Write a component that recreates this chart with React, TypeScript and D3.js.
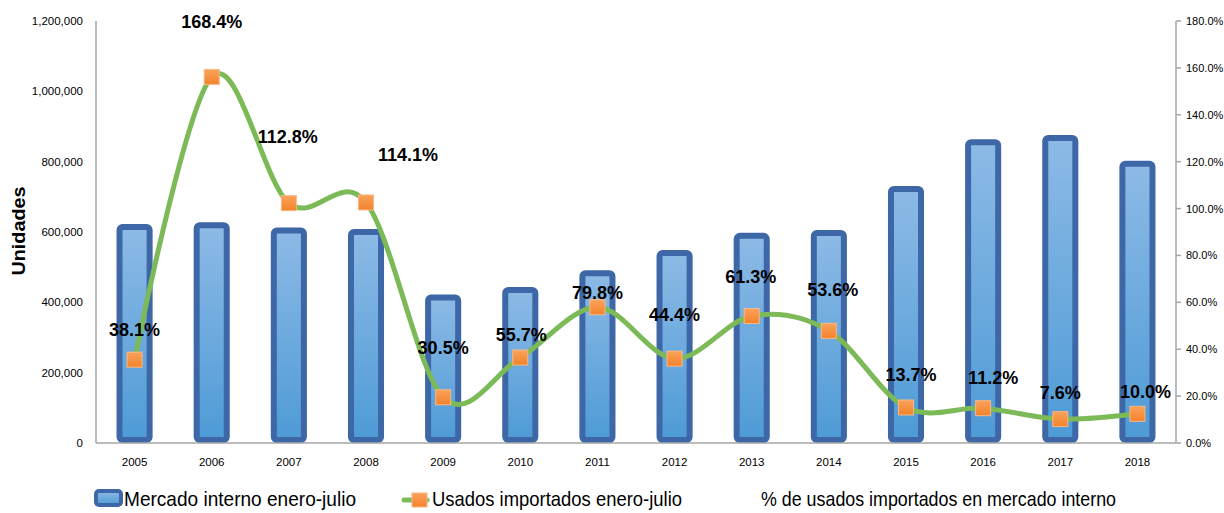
import React from 'react';
import * as d3 from 'd3';

const years = ['2005', '2006', '2007', '2008', '2009', '2010', '2011', '2012', '2013', '2014', '2015', '2016', '2017', '2018'];
const mercadoInterno = [614000, 619000, 604000, 600000, 414000, 435000, 483000, 540000, 589000, 597000, 722000, 855000, 867000, 794000];
const usadosImportados = [237000, 1041000, 682000, 684000, 130000, 243000, 386000, 240000, 361000, 319000, 101000, 99000, 68000, 83000];
const pctUsados = [38.1, 168.4, 112.8, 114.1, 30.5, 55.7, 79.8, 44.4, 61.3, 53.6, 13.7, 11.2, 7.6, 10.0];
const leftTicks = [0, 200000, 400000, 600000, 800000, 1000000, 1200000];
const rightTicks = [0, 20, 40, 60, 80, 100, 120, 140, 160, 180];
const seriesNames = ['Mercado interno enero-julio', 'Usados importados enero-julio', '% de usados importados en mercado interno'];

// layout nudges for the data labels (dx, dy in px from the % point)
const labelNudge: [number, number][] = [
  [0, -24], [0, -26], [-1, -42], [42, -20], [0, -23], [1, 23], [0, 37],
  [0, -24], [-1, -22], [4, -27], [5, -36], [10, -39], [0, -32], [8, -28],
];

const W = 1224;
const H = 513;
const left = 96;
const right = 1176;
const top = 21;
const bottom = 443;
const FONT = '"Liberation Sans", Arial, sans-serif';

export default function App() {
  const x = d3.scaleBand<string>().domain(years).range([left, right]).paddingInner(0.61).paddingOuter(0.305);
  const yL = d3.scaleLinear().domain([0, 1200000]).range([bottom, top]);
  const yR = d3.scaleLinear().domain([0, 180]).range([bottom, top]);
  const cx = (y: string) => (x(y) as number) + x.bandwidth() / 2;
  const fmtL = d3.format(',');
  const fmtR = (v: number) => `${v.toFixed(1)}%`;

  const linePath = d3
    .line<number>()
    .x((_, i) => cx(years[i]))
    .y((d) => yL(d))
    .curve(d3.curveCatmullRom.alpha(0))(usadosImportados) as string;

  const sw = 6;
  const ms = 15;

  return (
    <svg width={W} height={H} style={{ position: 'absolute', left: 0, top: 0, background: '#fff' }} fontFamily={FONT}>
      <defs>
        <linearGradient id="barGrad" x1="0" y1="0" x2="0" y2="1">
          <stop offset="0%" stopColor="#8DBAE6" />
          <stop offset="100%" stopColor="#4E9BD6" />
        </linearGradient>
        <linearGradient id="mkGrad" x1="0" y1="0" x2="0" y2="1">
          <stop offset="0%" stopColor="#F9A25C" />
          <stop offset="100%" stopColor="#F3832A" />
        </linearGradient>
      </defs>

      {/* Bars */}
      {years.map((yr, i) => (
        <rect
          key={yr}
          x={x(yr)}
          y={yL(mercadoInterno[i])}
          width={x.bandwidth()}
          height={yL(0) - yL(mercadoInterno[i]) - sw / 2}
          rx={3}
          fill="url(#barGrad)"
          stroke="#3D67A6"
          strokeWidth={sw}
        />
      ))}

      {/* Axes */}
      <line x1={left} x2={left} y1={top} y2={bottom} stroke="#A6A6A6" strokeWidth={1.5} />
      <line x1={left} x2={right} y1={bottom} y2={bottom} stroke="#A6A6A6" strokeWidth={1.5} />
      <line x1={right} x2={right} y1={top} y2={bottom} stroke="#A6A6A6" strokeWidth={1.5} />
      {leftTicks.map((t) => (
        <text key={t} x={83} y={yL(t)} textAnchor="end" dominantBaseline="central" fontSize={11.5} fill="#000">
          {fmtL(t)}
        </text>
      ))}
      {rightTicks.map((t) => (
        <g key={t}>
          <line x1={right} x2={right + 5} y1={yR(t)} y2={yR(t)} stroke="#A6A6A6" strokeWidth={1.5} />
          <text x={1186} y={yR(t)} dominantBaseline="central" fontSize={11} fill="#000">
            {fmtR(t)}
          </text>
        </g>
      ))}
      {years.map((yr) => (
        <text key={yr} x={cx(yr)} y={462} textAnchor="middle" dominantBaseline="central" fontSize={11.5} fill="#000">
          {yr}
        </text>
      ))}
      <text
        transform={`translate(25,231) rotate(-90)`}
        textAnchor="middle"
        fontSize={18}
        fontWeight="bold"
        textLength={89}
        lengthAdjust="spacingAndGlyphs"
        fill="#000"
      >
        Unidades
      </text>

      {/* Line */}
      <path d={linePath} fill="none" stroke="#7CB957" strokeWidth={5} strokeLinecap="round" />
      {years.map((yr, i) => (
        <rect
          key={yr}
          x={cx(yr) - ms / 2}
          y={yL(usadosImportados[i]) - ms / 2}
          width={ms}
          height={ms}
          fill="url(#mkGrad)"
          stroke="#FAB784"
          strokeWidth={1}
        />
      ))}

      {/* Data labels (% series) */}
      {years.map((yr, i) => (
        <text
          key={yr}
          x={cx(yr) + labelNudge[i][0]}
          y={yR(pctUsados[i]) + labelNudge[i][1]}
          textAnchor="middle"
          dominantBaseline="central"
          fontSize={18}
          fontWeight="bold"
          fill="#000"
        >
          {fmtR(pctUsados[i])}
        </text>
      ))}

      {/* Legend */}
      <rect x={96} y={491} width={25} height={14} rx={3} fill="url(#barGrad)" stroke="#3D67A6" strokeWidth={4} />
      <text x={124} y={506} fontSize={21} textLength={232} lengthAdjust="spacingAndGlyphs" fill="#000">
        {seriesNames[0]}
      </text>
      <line x1={404} x2={427} y1={500} y2={500} stroke="#7CB957" strokeWidth={5} strokeLinecap="round" />
      <rect x={412} y={493} width={15} height={14} fill="url(#mkGrad)" stroke="#FAB784" strokeWidth={1} />
      <text x={432} y={506} fontSize={21} textLength={250} lengthAdjust="spacingAndGlyphs" fill="#000">
        {seriesNames[1]}
      </text>
      <text x={761} y={506} fontSize={21} textLength={355} lengthAdjust="spacingAndGlyphs" fill="#000">
        {seriesNames[2]}
      </text>
    </svg>
  );
}
